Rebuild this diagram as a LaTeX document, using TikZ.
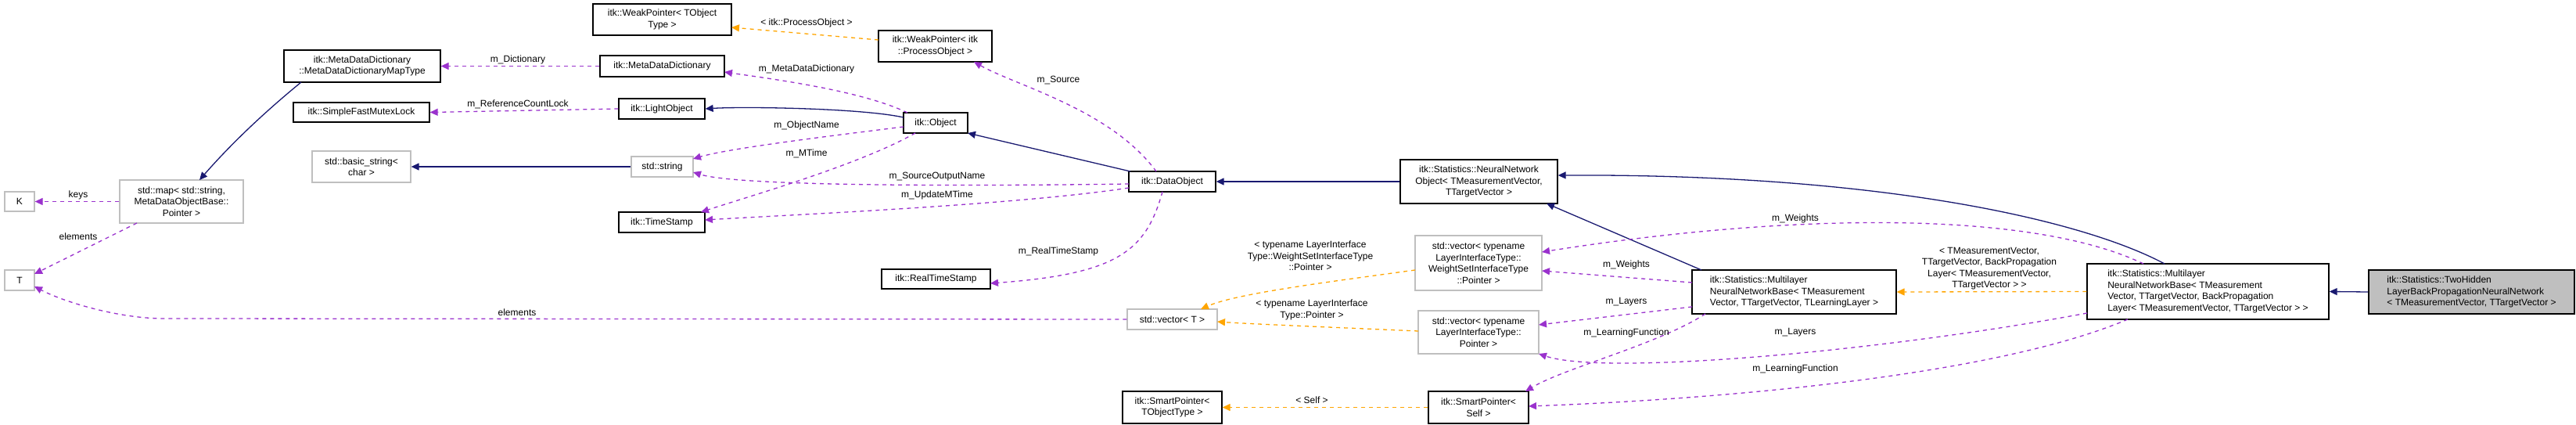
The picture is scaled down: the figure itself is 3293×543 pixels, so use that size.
\documentclass[tikz,border=0pt]{standalone}
\usepackage{fontspec}
\setmainfont{Liberation Sans}
\usetikzlibrary{arrows.meta}
\definecolor{inhc}{HTML}{191970}
\definecolor{usec}{HTML}{9A32CD}
\definecolor{tmplc}{HTML}{FFA500}
\definecolor{grayb}{HTML}{BFBFBF}
\begin{document}
\begin{tikzpicture}[x=1pt,y=-1pt,
  every node/.style={font=\fontsize{12}{14.5}\selectfont},
  box/.style={draw=black,line width=1.3pt,inner sep=0pt,align=center,fill=white},
  ubox/.style={box,draw=grayb},
  lbox/.style={box,align=left},
  tip/.style={-{Triangle[length=10pt,width=9pt]}},
  inh/.style={tip,draw=inhc,line width=1.3pt},
  use/.style={tip,draw=usec,line width=1.3pt,dash pattern=on 5pt off 5pt},
  tmpl/.style={tip,draw=tmplc,line width=1.3pt,dash pattern=on 5pt off 5pt},
  lab/.style={inner sep=0pt,align=center}]
\useasboundingbox (0,0) rectangle (3293,543);
% nodes
\node[box,minimum width=177,minimum height=40] (wpt) at (846.5,25) {itk::WeakPointer< TObject\\Type >};
\node[box,minimum width=200,minimum height=41] (maptype) at (463,84.5) {itk::MetaDataDictionary\\::MetaDataDictionaryMapType};
\node[box,minimum width=159,minimum height=27] (mdd) at (846.5,84.5) {itk::MetaDataDictionary};
\node[box,minimum width=174,minimum height=25] (sfml) at (462,143.5) {itk::SimpleFastMutexLock};
\node[box,minimum width=110,minimum height=26] (light) at (846,139) {itk::LightObject};
\node[ubox,minimum width=126,minimum height=40] (bstr) at (462,213) {std::basic\_string<\\char >};
\node[ubox,minimum width=79,minimum height=26] (str) at (846.5,213) {std::string};
\node[box,minimum width=110,minimum height=26] (ts) at (846,284) {itk::TimeStamp};
\node[ubox,minimum width=158,minimum height=55] (map) at (232,257.5) {std::map< std::string,\\MetaDataObjectBase::\\Pointer >};
\node[ubox,minimum width=38,minimum height=25] (K) at (25,257.5) {K};
\node[ubox,minimum width=38,minimum height=26] (T) at (25,358) {T};
\node[box,minimum width=145,minimum height=40] (wpp) at (1195.5,59) {itk::WeakPointer< itk\\::ProcessObject >};
\node[box,minimum width=82,minimum height=26] (obj) at (1196,157) {itk::Object};
\node[box,minimum width=111,minimum height=26] (dobj) at (1498.5,232) {itk::DataObject};
\node[box,minimum width=201,minimum height=56] (nno) at (1890.5,232) {itk::Statistics::NeuralNetwork\\Object< TMeasurementVector,\\TTargetVector >};
\node[box,minimum width=139,minimum height=25] (rts) at (1196.5,356.5) {itk::RealTimeStamp};
\node[ubox,minimum width=115,minimum height=26] (vt) at (1498.5,408) {std::vector< T >};
\node[ubox,minimum width=162,minimum height=70] (vws) at (1890,336) {std::vector< typename\\LayerInterfaceType::\\WeightSetInterfaceType\\::Pointer >};
\node[ubox,minimum width=154,minimum height=55] (vl) at (1890,424.5) {std::vector< typename\\LayerInterfaceType::\\Pointer >};
\node[box,minimum width=127,minimum height=41] (spt) at (1498.5,520.5) {itk::SmartPointer<\\TObjectType >};
\node[box,minimum width=128,minimum height=41] (sps) at (1890,520.5) {itk::SmartPointer<\\Self >};
\node[lbox,minimum width=261,minimum height=56,inner xsep=6pt] (ml1) at (2293.5,373) {itk::Statistics::Multilayer\\NeuralNetworkBase< TMeasurement\\Vector, TTargetVector, TLearningLayer >};
\node[lbox,minimum width=309,minimum height=71,inner xsep=6pt] (ml2) at (2822.5,372.5) {itk::Statistics::Multilayer\\NeuralNetworkBase< TMeasurement\\Vector, TTargetVector, BackPropagation\\Layer< TMeasurementVector, TTargetVector > >};
\node[lbox,minimum width=263,minimum height=56,fill=grayb,inner xsep=6pt] (two) at (3159.5,373) {itk::Statistics::TwoHidden\\LayerBackPropagationNeuralNetwork\\< TMeasurementVector, TTargetVector >};
% inheritance
\draw[inh] (two.west) -- (ml2.east);
\draw[inh] (2767,337) .. controls (2660,280) and (2400,222) .. (nno.east |- 0,224);
\draw[inh] (2175,345) -- (1977,260);
\draw[inh] (nno.west) -- (dobj.east);
\draw[inh] (1445,219) -- (1237,170);
\draw[inh] (1155,150) .. controls (1100,138) and (950,136) .. (light.east);
\draw[inh] (str.west) -- (bstr.east);
\draw[inh] (385,105) .. controls (330,150) and (290,190) .. (255,230);
% templates
\draw[tmpl] (ml2.west) -- (ml1.east);
\node[lab] (l2) at (2543,343) {< TMeasurementVector,\\TTargetVector, BackPropagation\\Layer< TMeasurementVector,\\TTargetVector > >};
\draw[tmpl] (1123,51) -- (935,35);
\node[lab] (l19) at (1031,29) {< itk::ProcessObject >};
\draw[tmpl] (1809,345) .. controls (1700,360) and (1580,375) .. (1535,395);
\node[lab] (l23) at (1675,327) {< typename LayerInterface\\Type::WeightSetInterfaceType\\::Pointer >};
\draw[tmpl] (1813,423) .. controls (1700,418) and (1600,414) .. (1556,411);
\node[lab] (l24) at (1677,396) {< typename LayerInterface\\Type::Pointer >};
\draw[tmpl] (sps.west) -- (spt.east);
\node[lab] (l31) at (1677,511) {< Self >};
% usage
\draw[use] (mdd.west) -- (maptype.east);
\node[lab] (l10) at (662,76) {m\_Dictionary};
\draw[use] (light.west) -- (sfml.east);
\node[lab] (l11) at (662,133) {m\_ReferenceCountLock};
\draw[use] (1160,144) .. controls (1100,115) and (980,100) .. (926,92);
\node[lab] (l12) at (1031,88) {m\_MetaDataDictionary};
\draw[use] (1155,162) .. controls (1050,175) and (930,190) .. (886,203);
\node[lab] (l13) at (1031,160) {m\_ObjectName};
\draw[use] (1170,170) .. controls (1100,210) and (960,250) .. (896,271);
\node[lab] (l14) at (1031,196) {m\_MTime};
\draw[use] (1443,235) .. controls (1300,237) and (950,240) .. (886,220);
\node[lab] (l15) at (1198,226) {m\_SourceOutputName};
\draw[use] (1443,240) .. controls (1300,262) and (1000,275) .. (901,281);
\node[lab] (l16) at (1198,249) {m\_UpdateMTime};
\draw[use] (1478,219) .. controls (1420,140) and (1300,110) .. (1245,79);
\node[lab] (l17) at (1353,103) {m\_Source};
\draw[use] (1486,245) .. controls (1465,320) and (1430,350) .. (1266,362);
\node[lab] (l18) at (1353,321) {m\_RealTimeStamp};
\draw[use] (map.west) -- (K.east);
\node[lab] (l20) at (100,249) {keys};
\draw[use] (175,285) -- (44,350);
\node[lab] (l21) at (100,302) {elements};
\draw[use] (vt.west) -- (210,407) .. controls (150,407) and (80,385) .. (44,366);
\node[lab] (l22) at (661,399) {elements};
\draw[use] (2163,361) -- (1971,346);
\node[lab] (l25) at (2079,338) {m\_Weights};
\draw[use] (2740,337) .. controls (2600,270) and (2300,270) .. (1971,322);
\node[lab] (l26) at (2295,279) {m\_Weights};
\draw[use] (2163,392) -- (1967,415);
\node[lab] (l27) at (2079,386) {m\_Layers};
\draw[use] (2668,400) .. controls (2400,450) and (2050,480) .. (1967,452);
\node[lab] (l28) at (2295,425) {m\_Layers};
\draw[use] (2180,401) .. controls (2120,440) and (2000,470) .. (1950,500);
\node[lab] (l29) at (2079,425) {m\_LearningFunction};
\draw[use] (2720,408) .. controls (2550,480) and (2200,510) .. (1954,519);
\node[lab] (l30) at (2295,471) {m\_LearningFunction};
\end{tikzpicture}
\end{document}
